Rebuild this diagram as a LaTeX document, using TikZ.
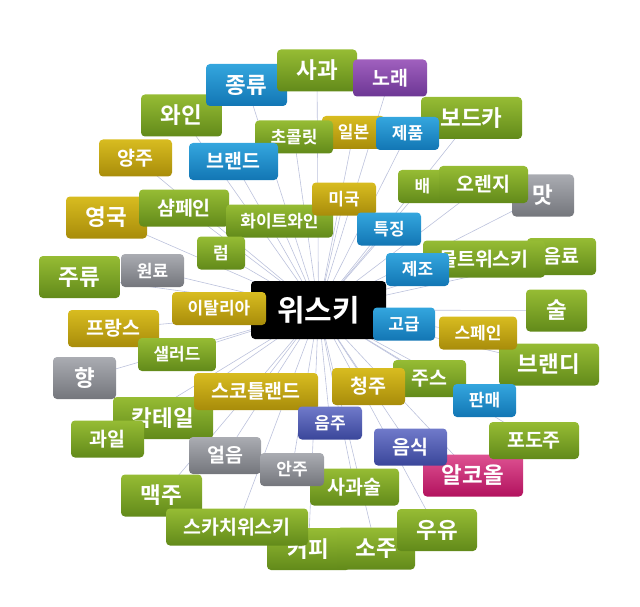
\documentclass[tikz,border=0pt]{standalone}
\usepackage{fontspec}
\setmainfont{Noto Sans CJK KR}[BoldFont={Noto Sans CJK KR Bold}]
\usetikzlibrary{backgrounds}
\definecolor{greenT}{RGB}{150,188,52}
\definecolor{greenB}{RGB}{98,138,26}
\definecolor{yellowT}{RGB}{216,188,32}
\definecolor{yellowB}{RGB}{168,140,10}
\definecolor{blueT}{RGB}{52,166,222}
\definecolor{blueB}{RGB}{18,118,180}
\definecolor{grayT}{RGB}{170,172,178}
\definecolor{grayB}{RGB}{116,118,124}
\definecolor{purpleT}{RGB}{160,96,190}
\definecolor{purpleB}{RGB}{108,54,148}
\definecolor{indigoT}{RGB}{112,122,202}
\definecolor{indigoB}{RGB}{58,70,154}
\definecolor{magentaT}{RGB}{222,82,146}
\definecolor{magentaB}{RGB}{178,18,94}
\definecolor{linkcol}{RGB}{188,194,220}
\begin{document}
\begin{tikzpicture}[
x=1pt, y=-1pt,
word/.style={rounded corners=4pt, inner sep=0pt, text=white, font=\bfseries},
green/.style={word, top color=greenT, bottom color=greenB},
yellow/.style={word, top color=yellowT, bottom color=yellowB},
blue/.style={word, top color=blueT, bottom color=blueB},
gray/.style={word, top color=grayT, bottom color=grayB},
purple/.style={word, top color=purpleT, bottom color=purpleB},
indigo/.style={word, top color=indigoT, bottom color=indigoB},
magenta/.style={word, top color=magentaT, bottom color=magentaB},
big/.style={font=\bfseries\fontsize{22.5}{22.5}\selectfont, minimum height=42},
medium/.style={font=\bfseries\fontsize{19.5}{19.5}\selectfont, minimum height=37},
small/.style={font=\bfseries\fontsize{17}{17}\selectfont, minimum height=33},
link/.style={draw=linkcol, line width=0.6pt},
]
\path[use as bounding box] (0,0) rectangle (640,607);
% upper part
\node[green, big, minimum width=81] (wain) at (181.5,115.5) {와인};
\node[blue, big, minimum width=81] (jongryu) at (246.5,85) {종류};
\node[green, big, minimum width=80] (sagwa) at (317,70.5) {사과};
\node[purple, medium, minimum width=74] (norae) at (390,78) {노래};
\node[green, big, minimum width=101] (vodka) at (471.5,118) {보드카};
\node[yellow, small, minimum width=63] (ilbon) at (353.5,132.5) {일본};
\node[green, small, minimum width=78] (chocolate) at (294,137) {초콜릿};
\node[blue, small, minimum width=63] (jepum) at (407.5,133.5) {제품};
\node[yellow, medium, minimum width=73] (yangju) at (135.5,158) {양주};
\node[blue, medium, minimum width=89] (brand) at (233.5,161.5) {브랜드};
\node[green, small, minimum width=49] (bae) at (422.5,186.5) {배};
\node[gray, big, minimum width=62] (mat) at (543,195.5) {맛};
\node[green, medium, minimum width=89] (orange) at (483.5,184.5) {오렌지};
\node[yellow, big, minimum width=81] (yeongguk) at (106.5,217.5) {영국};
\node[green, medium, minimum width=90] (champagne) at (184,208) {샴페인};
\node[green, small, minimum width=107] (whitewine) at (279.5,221) {화이트와인};
\node[yellow, small, minimum width=64] (miguk) at (344,199) {미국};
\node[blue, small, minimum width=64] (teukjing) at (389,229) {특징};
\node[green, small, minimum width=48] (rum) at (221,253) {럼};
\node[green, medium, minimum width=69] (eumryo) at (561.5,256.5) {음료};
\node[green, medium, minimum width=122] (malt) at (484,259) {몰트위스키};
\node[blue, small, minimum width=63] (jejo) at (417.5,269.5) {제조};
\node[green, big, minimum width=81] (juryu) at (79.5,277) {주류};
\node[gray, small, minimum width=63] (wonryo) at (152.5,270.5) {원료};
% centre
\node[word, fill=black, minimum width=135, minimum height=58,
  font=\bfseries\fontsize{30}{30}\selectfont] (whisky) at (318.5,310) {위스키};
% lower part
\node[yellow, small, minimum width=94] (italy) at (219,308.5) {이탈리아};
\node[green, big, minimum width=61] (sul) at (556.5,310.5) {술};
\node[blue, small, minimum width=62] (gogeup) at (404,324) {고급};
\node[yellow, medium, minimum width=91] (france) at (113.5,328.5) {프랑스};
\node[green, small, minimum width=78] (salad) at (177,354.5) {샐러드};
\node[green, big, minimum width=100] (brandy) at (549,364.5) {브랜디};
\node[yellow, small, minimum width=78] (spain) at (478,333) {스페인};
\node[gray, big, minimum width=63] (hyang) at (84.5,378) {향};
\node[green, medium, minimum width=73] (juice) at (429.5,378.5) {주스};
\node[yellow, medium, minimum width=73] (cheongju) at (368.5,386.5) {청주};
\node[blue, small, minimum width=63] (panmae) at (484.5,400.5) {판매};
\node[green, big, minimum width=100] (cocktail) at (163,418) {칵테일};
\node[yellow, medium, minimum width=124] (scotland) at (256,391.5) {스코틀랜드};
\node[green, medium, minimum width=73] (gwail) at (107.5,439) {과일};
\node[indigo, small, minimum width=64] (eumju) at (330,423) {음주};
\node[magenta, big, minimum width=100] (alcohol) at (473,475.5) {알코올};
\node[green, medium, minimum width=90] (podoju) at (534,440.5) {포도주};
\node[indigo, medium, minimum width=73] (eumsik) at (410.5,447) {음식};
\node[gray, medium, minimum width=72] (eoreum) at (225,455.5) {얼음};
\node[green, medium, minimum width=89] (sagwasul) at (354.5,487) {사과술};
\node[gray, small, minimum width=64] (anju) at (292,469.5) {안주};
\node[green, big, minimum width=81] (maekju) at (161.5,495.5) {맥주};
\node[green, big, minimum width=83] (coffee) at (308.5,549) {커피};
\node[green, medium, minimum width=142] (scotch) at (237,527) {스카치위스키};
\node[green, big, minimum width=78] (soju) at (376,548.5) {소주};
\node[green, big, minimum width=80] (uyu) at (437,530) {우유};
% links behind the words
\begin{scope}[on background layer]
\foreach \w in {wain,jongryu,sagwa,norae,vodka,ilbon,chocolate,jepum,yangju,
  brand,bae,mat,orange,yeongguk,champagne,whitewine,miguk,teukjing,rum,eumryo,
  malt,jejo,juryu,wonryo,italy,sul,gogeup,france,salad,brandy,spain,hyang,
  juice,cheongju,panmae,cocktail,scotland,gwail,eumju,alcohol,podoju,eumsik,
  eoreum,sagwasul,anju,maekju,coffee,scotch,soju,uyu}
  \draw[link] (whisky.center) -- (\w.center);
\end{scope}
\end{tikzpicture}
\end{document}
